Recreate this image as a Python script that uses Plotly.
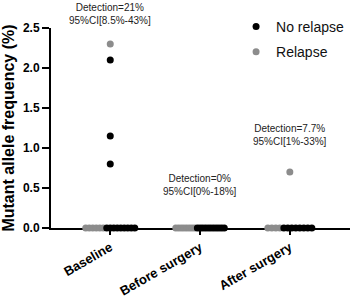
import plotly.graph_objects as go

categories = ["Baseline", "Before surgery", "After surgery"]
# Detected (non-zero) values per category
relapse_detected = [[2.3], [], [0.7]]
no_relapse_detected = [[2.1, 1.15, 0.8], [], []]
# Counts of undetected (zero) samples per category
relapse_zero_n = [6, 8, 4]
no_relapse_zero_n = [9, 11, 8]
annotations_text = [
    "Detection=21%<br>95%CI[8.5%-43%]",
    "Detection=0%<br>95%CI[0%-18%]",
    "Detection=7.7%<br>95%CI[1%-33%]",
]
annotation_y = [2.68, 0.54, 1.16]
Y_MAX = 2.5

# horizontal spread spacing (in category units) of the zero rows
spacing = [0.039, 0.030, 0.0445]

rx, ry, nx, ny = [], [], [], []
for i in range(len(categories)):
    for v in relapse_detected[i]:
        rx.append(i); ry.append(v)
    for v in no_relapse_detected[i]:
        nx.append(i); ny.append(v)
    total = relapse_zero_n[i] + no_relapse_zero_n[i]
    start = i - (total - 1) / 2 * spacing[i]
    for k in range(total):
        xk = start + k * spacing[i]
        if k < relapse_zero_n[i]:
            rx.append(xk); ry.append(0)
        else:
            nx.append(xk); ny.append(0)

FONT = "Arial, Liberation Sans, sans-serif"
GRAY = "#8c8c8c"

fig = go.Figure()
fig.add_trace(go.Scatter(
    x=rx, y=ry, mode="markers", name="Relapse", legendgroup="r", legendrank=2,
    marker=dict(color=GRAY, size=7), cliponaxis=False))
fig.add_trace(go.Scatter(
    x=nx, y=ny, mode="markers", name="No relapse", legendgroup="n", legendrank=1,
    marker=dict(color="black", size=7), cliponaxis=False))

for i, t in enumerate(annotations_text):
    fig.add_annotation(x=i, y=annotation_y[i] / Y_MAX, xref="x", yref="paper", text=t,
                       showarrow=False, font=dict(family=FONT, size=10, color="#222"),
                       yanchor="middle", xanchor="center")

fig.update_layout(
    width=359, height=300,
    margin=dict(l=51, r=9, t=28, b=72, autoexpand=False),
    paper_bgcolor="white", plot_bgcolor="white",
    font=dict(family=FONT, color="black"),
    legend=dict(x=0.619, y=1.085, xanchor="left", yanchor="top",
                font=dict(family=FONT, size=14, color="#111"),
                tracegroupgap=4, bgcolor="rgba(0,0,0,0)", itemclick=False),
    showlegend=True,
)
fig.update_xaxes(
    range=[-0.66, 2.67], tickvals=list(range(len(categories))), ticktext=categories,
    tickangle=-30, showline=True, linecolor="black", linewidth=2,
    ticks="outside", ticklen=5, tickwidth=2, tickcolor="black",
    tickfont=dict(family=FONT, size=13, color="black", weight="bold"),
    showgrid=False, zeroline=False, layer="below traces", automargin=False,
)
fig.update_yaxes(
    range=[0, Y_MAX], tickvals=[0, 0.5, 1.0, 1.5, 2.0, 2.5],
    ticktext=["0.0", "0.5", "1.0", "1.5", "2.0", "2.5"],
    showline=True, linecolor="black", linewidth=2,
    ticks="outside", ticklen=7, tickwidth=2, tickcolor="black",
    tickfont=dict(family=FONT, size=12, color="black", weight="bold"),
    title=dict(text="Mutant allele frequency (%)", standoff=6,
               font=dict(family=FONT, size=16, color="black", weight="bold")),
    showgrid=False, zeroline=False, automargin=False,
)

fig.write_html("out.html")
